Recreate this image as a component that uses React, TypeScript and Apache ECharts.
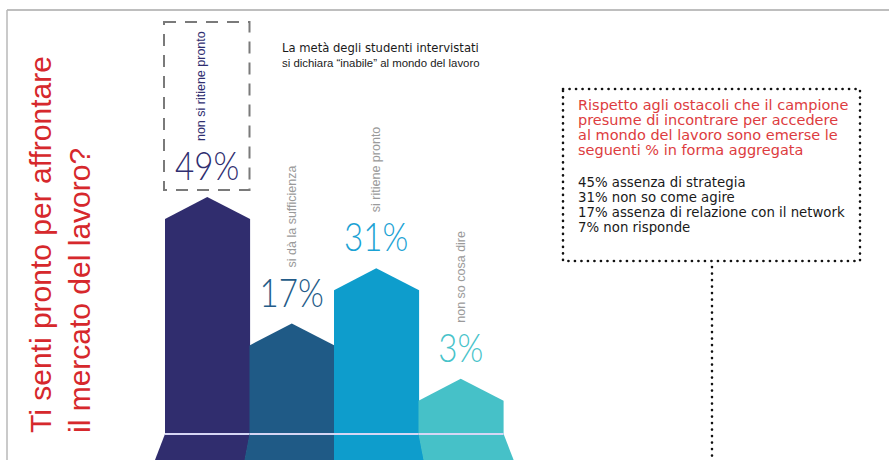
import React, { useEffect, useRef } from "react";
import * as echarts from "echarts";

const categories = ["non si ritiene pronto", "si dà la sufficienza", "si ritiene pronto", "non so cosa dire"];
const values = [49, 17, 31, 3];
const valueLabels = ["49%", "17%", "31%", "3%"];
const titleLines = ["Ti senti pronto per affrontare", "il mercato del lavoro?"];
const noteLines = ["La metà degli studenti intervistati", "si dichiara “inabile” al mondo del lavoro"];
const boxIntro = [
  "Rispetto agli ostacoli che il campione",
  "presume di incontrare per accedere",
  "al mondo del lavoro sono emerse le",
  "seguenti % in forma aggregata",
];
const obstacles = [
  "45% assenza di strategia",
  "31% non so come agire",
  "17% assenza di relazione con il network",
  "7% non risponde",
];

const barColors = ["#302d6e", "#1f5a86", "#0e9dcc", "#46c1c8"];
const labelColors = ["#2f2e70", "#235b88", "#1ba2d4", "#48c3ca"];
const catColors = ["#2f2e70", "#9a9a9a", "#9a9a9a", "#9a9a9a"];
const HIGHLIGHT = 0;

function renderItem(params: any, api: any) {
  const i = api.value(0);
  const v = api.value(1);
  const [cx, sy] = api.coord([i, v]);
  const bw = api.size([1, 0])[0];
  const cs = params.coordSys;
  const bottomY = cs.y + cs.height;
  const centerX = cs.x + cs.width / 2;
  const baseY = bottomY - 26;
  const left = cx - bw / 2;
  const right = cx + bw / 2 + 0.6;
  const peakY = sy - 22;
  const k = 0.00228;
  const flare = (x: number, y: number) => centerX + (x - centerX) * (1 + k * (y - baseY));
  const color = barColors[i];
  const children: any[] = [
    {
      type: "polygon",
      shape: { points: [[left, baseY + 1], [left, sy], [cx, peakY], [right, sy], [right, baseY + 1]] },
      style: { fill: color },
    },
    {
      type: "polygon",
      shape: {
        points: [
          [left, baseY],
          [right, baseY],
          [flare(right, bottomY + 2), bottomY + 2],
          [flare(left, bottomY + 2), bottomY + 2],
        ],
      },
      style: { fill: color },
    },
    {
      type: "line",
      shape: { x1: left, y1: baseY, x2: right, y2: baseY },
      style: { stroke: "#d6d6f4", lineWidth: 2 },
    },
    {
      type: "text",
      x: cx,
      y: peakY - 32,
      scaleX: 0.85,
      style: {
        text: valueLabels[i],
        fill: labelColors[i],
        fontSize: 39,
        fontFamily: "Lato, 'Liberation Sans', sans-serif",
        fontWeight: 300,
        align: "center",
        verticalAlign: "middle",
        textAlign: "center",
        textVerticalAlign: "middle",
      },
    },
    {
      type: "text",
      x: cx - (i === HIGHLIGHT ? 6 : 0),
      y: peakY - 56,
      rotation: Math.PI / 2,
      style: {
        text: categories[i],
        fill: catColors[i],
        fontSize: 12.5,
        fontFamily: "'Liberation Sans', Arial, sans-serif",
        align: "left",
        verticalAlign: "middle",
        textAlign: "left",
        textVerticalAlign: "middle",
      },
    },
  ];
  if (i === HIGHLIGHT) {
    children.push({
      type: "rect",
      shape: { x: left - 1, y: peakY - 175, width: bw + 1, height: 168 },
      style: { fill: "none", stroke: "#7a7a7a", lineWidth: 2, lineDash: [12, 9] },
    });
  }
  return { type: "group", children };
}

export default function App() {
  const ref = useRef<HTMLDivElement>(null);
  useEffect(() => {
    if (!ref.current) return;
    const chart = echarts.init(ref.current, undefined, { renderer: "svg" });
    const redBox = "#dd3c40";
    const graphic: any[] = [
      { type: "line", shape: { x1: 7, y1: 10, x2: 889, y2: 10 }, style: { stroke: "#a8a8a8", lineWidth: 1.5 } },
      { type: "line", shape: { x1: 7, y1: 10, x2: 7, y2: 460 }, style: { stroke: "#b8b8b8", lineWidth: 1.5 } },
      ...titleLines.map((t, j) => ({
        type: "text",
        x: 40 + j * 39,
        y: 433,
        rotation: Math.PI / 2,
        style: {
          text: t,
          fill: "#d6282c",
          fontSize: 30,
          fontFamily: "'Liberation Sans', Arial, sans-serif",
          textAlign: "left",
          textVerticalAlign: "middle",
        },
      })),
      ...noteLines.map((t, j) => ({
        type: "text",
        x: 282,
        y: 48 + j * 15,
        style: {
          text: t,
          fill: "#1a1a1a",
          fontSize: j === 0 ? 11.6 : 11.4,
          fontFamily: j === 0 ? "'DejaVu Sans', sans-serif" : "'Liberation Sans', Arial, sans-serif",
          textAlign: "left",
          textVerticalAlign: "middle",
        },
      })),
      {
        type: "rect",
        shape: { x: 563, y: 89, width: 297, height: 172 },
        style: { fill: "none", stroke: "#111", lineWidth: 2.6, lineDash: [0.1, 6.4], lineCap: "round" },
      },
      {
        type: "line",
        shape: { x1: 712, y1: 267, x2: 712, y2: 462 },
        style: { stroke: "#111", lineWidth: 2.6, lineDash: [0.1, 6.4], lineCap: "round" },
      },
      ...boxIntro.map((t, j) => ({
        type: "text",
        x: 578,
        y: 105 + j * 15,
        style: {
          text: t,
          fill: redBox,
          fontSize: 14.5,
          fontFamily: "'DejaVu Sans', sans-serif",
          textAlign: "left",
          textVerticalAlign: "middle",
        },
      })),
      ...obstacles.map((t, j) => ({
        type: "text",
        x: 578,
        y: 182 + j * 15,
        style: {
          text: t,
          fill: "#1a1a1a",
          fontSize: 13.3,
          fontFamily: "'DejaVu Sans', sans-serif",
          textAlign: "left",
          textVerticalAlign: "middle",
        },
      })),
    ];
    chart.setOption({
      animation: false,
      grid: { left: 165, right: 386, top: 175.6, bottom: 0 },
      xAxis: { type: "category", data: categories, show: false },
      yAxis: { type: "value", min: -12, max: 60, show: false },
      series: [
        {
          type: "custom",
          data: values.map((v, i) => [i, v]),
          renderItem,
          clip: false,
        },
      ],
      graphic,
    });
    return () => chart.dispose();
  }, []);
  return (
    <div
      ref={ref}
      style={{ position: "fixed", left: 0, top: 0, width: 889, height: 460, background: "#fff" }}
    />
  );
}
